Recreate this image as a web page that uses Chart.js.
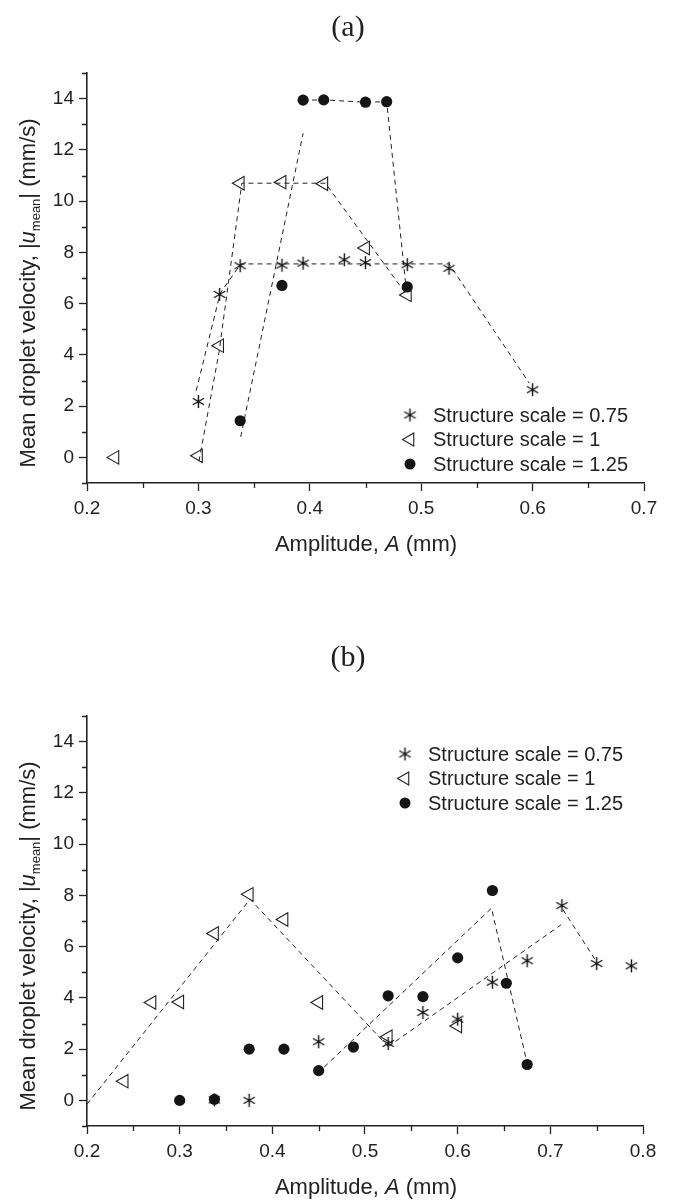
<!DOCTYPE html>
<html>
<head>
<meta charset="utf-8">
<script src="https://cdn.jsdelivr.net/npm/chart.js@4.4.1/dist/chart.umd.min.js"></script>
<style>
  body { margin: 0; background: #fff; }
  canvas { display: block; }
</style>
</head>
<body>
<canvas id="chartA" width="680" height="601"></canvas>
<canvas id="chartB" width="680" height="601"></canvas>
<script>
// ---- panel (a) ----
const ampA75 = [0.3, 0.319, 0.3375, 0.375, 0.394, 0.431, 0.45, 0.4875, 0.525, 0.6];
const velA75 = [2.18, 6.36, 7.48, 7.5, 7.58, 7.71, 7.6, 7.52, 7.38, 2.64];
const ampA1 = [0.225, 0.3, 0.319, 0.3375, 0.375, 0.4125, 0.45, 0.4875];
const velA1 = [0, 0.06, 4.36, 10.7, 10.74, 10.68, 8.17, 6.34];
const ampA125 = [0.3375, 0.375, 0.394, 0.4125, 0.45, 0.469, 0.4875];
const velA125 = [1.43, 6.71, 13.94, 13.95, 13.86, 13.88, 6.65];

// dashed guide lines (a)
const guideA75Amp = [0.298, 0.3195, 0.338, 0.525, 0.597];
const guideA75Vel = [2.6, 6.4, 7.55, 7.55, 2.9];
const guideA1Amp = [0.3005, 0.3185, 0.339, 0.414, 0.486];
const guideA1Vel = [-0.15, 4.1, 10.7, 10.7, 6.4];
const guideA125Amp1 = [0.338, 0.394];
const guideA125Vel1 = [0.8, 12.65];
const guideA125Amp2 = [0.394, 0.4125, 0.45, 0.469, 0.486];
const guideA125Vel2 = [13.94, 13.95, 13.86, 13.88, 6.8];

const xTicksA = [0.2, 0.3, 0.4, 0.5, 0.6, 0.7];
const xMinorA = [0.25, 0.35, 0.45, 0.55, 0.65];

// ---- panel (b) ----
const ampB75 = [0.3375, 0.375, 0.45, 0.525, 0.5625, 0.6, 0.6375, 0.675, 0.7125, 0.75, 0.7875];
const velB75 = [0.02, 0, 2.29, 2.22, 3.43, 3.17, 4.61, 5.45, 7.6, 5.34, 5.25];
const ampB1 = [0.24, 0.27, 0.3, 0.3375, 0.375, 0.4125, 0.45, 0.525, 0.6];
const velB1 = [0.75, 3.82, 3.84, 6.51, 8.04, 7.06, 3.82, 2.48, 2.9];
const ampB125 = [0.3, 0.3375, 0.375, 0.4125, 0.45, 0.4875, 0.525, 0.5625, 0.6, 0.6375, 0.6525, 0.675];
const velB125 = [0, 0.04, 2.0, 2.0, 1.16, 2.08, 4.08, 4.05, 5.56, 8.19, 4.57, 1.4];

// dashed guide lines (b)
const guideB1Amp = [0.2, 0.376, 0.525];
const guideB1Vel = [-0.15, 7.85, 2.1];
const guideB75Amp1 = [0.525, 0.7115];
const guideB75Vel1 = [2.1, 6.85];
const guideB75Amp2 = [0.7135, 0.75];
const guideB75Vel2 = [7.45, 5.4];
const guideB125Amp = [0.456, 0.6365, 0.674];
const guideB125Vel = [1.3, 7.5, 1.6];

const xTicksB = [0.2, 0.3, 0.4, 0.5, 0.6, 0.7, 0.8];
const xMinorB = [0.25, 0.35, 0.45, 0.55, 0.65, 0.75];

const yTicks = [0, 2, 4, 6, 8, 10, 12, 14];
const yMinor = [-1, 1, 3, 5, 7, 9, 11, 13, 15];
const seriesLabels = ['Structure scale = 0.75', 'Structure scale = 1', 'Structure scale = 1.25'];

const ink = '#222';
const sans = "'Liberation Sans', Arial, sans-serif";
Chart.defaults.font.family = sans;
Chart.defaults.color = ink;

// six-armed asterisk marker
const star = document.createElement('canvas');
star.width = 15; star.height = 15;
(function () {
  const c = star.getContext('2d');
  c.strokeStyle = '#111';
  c.lineWidth = 1.4;
  c.beginPath();
  for (let k = 0; k < 3; k++) {
    const a = Math.PI / 2 + k * Math.PI / 3;
    c.moveTo(7.5 + Math.cos(a) * 6.5, 7.5 - Math.sin(a) * 6.5);
    c.lineTo(7.5 - Math.cos(a) * 6.5, 7.5 + Math.sin(a) * 6.5);
  }
  c.stroke();
})();

const pts = (xs, ys) => xs.map((x, i) => ({ x: x, y: ys[i] }));

function markerSets(a75, v75, a1, v1, a125, v125) {
  return [
    { label: seriesLabels[0], data: pts(a75, v75), pointStyle: star, pointRadius: 7, order: 0 },
    { label: seriesLabels[1], data: pts(a1, v1), pointStyle: 'triangle', pointRotation: -90, pointRadius: 7.8,
      borderColor: ink, borderWidth: 1.1, backgroundColor: 'rgba(0,0,0,0)', order: 0 },
    { label: seriesLabels[2], data: pts(a125, v125), pointStyle: 'circle', pointRadius: 5.6,
      backgroundColor: '#151515', borderColor: '#151515', borderWidth: 0, order: 0 }
  ];
}

function guide(xs, ys) {
  return { data: pts(xs, ys), showLine: true, pointRadius: 0, borderColor: ink, borderWidth: 1,
           borderDash: [5, 4], fill: false, order: 1 };
}

function drawRuns(ctx, runs, cx, base) {
  let total = 0;
  runs.forEach(r => { ctx.font = r.font; r.w = ctx.measureText(r.text).width; total += r.w; });
  let x = cx - total / 2;
  ctx.textAlign = 'left';
  ctx.textBaseline = 'alphabetic';
  runs.forEach(r => { ctx.font = r.font; ctx.fillText(r.text, x, base + (r.dy || 0)); x += r.w; });
}

function legendMarker(ctx, i, x, y) {
  ctx.save();
  if (i === 0) {
    ctx.drawImage(star, x - 7.5, y - 7.5);
  } else if (i === 1) {
    const r = 7.5;
    ctx.strokeStyle = ink; ctx.lineWidth = 1.1;
    ctx.beginPath();
    ctx.moveTo(x - r, y);
    ctx.lineTo(x + r / 2, y - r * Math.sqrt(3) / 2);
    ctx.lineTo(x + r / 2, y + r * Math.sqrt(3) / 2);
    ctx.closePath();
    ctx.stroke();
  } else {
    ctx.fillStyle = '#151515';
    ctx.beginPath(); ctx.arc(x, y, 5.5, 0, Math.PI * 2); ctx.fill();
  }
  ctx.restore();
}

function decorations(opt) {
  return {
    id: 'decor',
    afterDraw(chart) {
      const ctx = chart.ctx;
      const xs = chart.scales.x, ys = chart.scales.y, area = chart.chartArea;
      ctx.save();
      // minor ticks
      ctx.strokeStyle = ink; ctx.lineWidth = 1.3;
      ctx.beginPath();
      opt.xMinor.forEach(v => {
        const px = Math.round(xs.getPixelForValue(v)) + 0.5;
        ctx.moveTo(px, area.bottom); ctx.lineTo(px, area.bottom + 5);
      });
      yMinor.forEach(v => {
        const py = Math.round(ys.getPixelForValue(v)) + 0.5;
        ctx.moveTo(area.left - 5, py); ctx.lineTo(area.left, py);
      });
      ctx.stroke();

      ctx.fillStyle = ink;
      // panel title
      ctx.font = "30px 'Liberation Serif', 'DejaVu Serif', serif";
      ctx.textAlign = 'center'; ctx.textBaseline = 'middle';
      ctx.fillText(opt.title, 348, opt.titleY);

      // x axis title
      drawRuns(ctx, [
        { text: 'Amplitude, ', font: '22px ' + sans },
        { text: 'A', font: 'italic 22px ' + sans },
        { text: ' (mm)', font: '22px ' + sans }
      ], 366, area.bottom + 68);

      // y axis title
      ctx.save();
      ctx.translate(35, (area.top + area.bottom) / 2 + 15);
      ctx.rotate(-Math.PI / 2);
      drawRuns(ctx, [
        { text: 'Mean droplet velocity, |', font: '22px ' + sans },
        { text: 'u', font: 'italic 22px ' + sans },
        { text: 'mean', font: '13px ' + sans, dy: 5 },
        { text: '| (mm/s)', font: '22px ' + sans }
      ], 0, 0);
      ctx.restore();

      // legend
      ctx.font = '20px ' + sans;
      ctx.textAlign = 'left'; ctx.textBaseline = 'middle';
      seriesLabels.forEach((lab, i) => {
        const y = opt.legendY + i * 24.5;
        legendMarker(ctx, i, opt.legendX, y);
        ctx.fillStyle = ink;
        ctx.fillText(lab, opt.legendX + 23, y + 1);
      });
      ctx.restore();
    }
  };
}

function makeChart(id, datasets, xMax, xTicks, pad, opt) {
  return new Chart(document.getElementById(id), {
    type: 'scatter',
    data: { datasets: datasets },
    options: {
      responsive: false,
      animation: false,
      devicePixelRatio: 1,
      layout: { padding: pad },
      plugins: { legend: { display: false }, tooltip: { enabled: false } },
      scales: {
        x: {
          type: 'linear', min: 0.2, max: xMax,
          afterBuildTicks: s => { s.ticks = xTicks.map(v => ({ value: v })); },
          afterFit: s => { s.height = 40; },
          ticks: { callback: v => v.toFixed(1), font: { size: 19 }, color: ink, padding: 6, maxRotation: 0, autoSkip: false },
          grid: { drawOnChartArea: false, tickLength: 8, tickColor: ink, tickWidth: 1.3 },
          border: { color: ink, width: 1.6 }
        },
        y: {
          type: 'linear', min: -1, max: 15,
          afterBuildTicks: s => { s.ticks = yTicks.map(v => ({ value: v })); },
          afterFit: s => { s.width = 87; },
          ticks: { callback: v => String(v), font: { size: 19 }, color: ink, padding: 5, autoSkip: false },
          grid: { drawOnChartArea: false, tickLength: 8, tickColor: ink, tickWidth: 1.3 },
          border: { color: ink, width: 1.6 }
        }
      }
    },
    plugins: [decorations(opt)]
  });
}

makeChart('chartA',
  markerSets(ampA75, velA75, ampA1, velA1, ampA125, velA125).concat([
    guide(guideA75Amp, guideA75Vel),
    guide(guideA1Amp, guideA1Vel),
    guide(guideA125Amp1, guideA125Vel1),
    guide(guideA125Amp2, guideA125Vel2)
  ]),
  0.7, xTicksA,
  { left: 0, right: 36, top: 73, bottom: 78 },
  { title: '(a)', titleY: 28, xMinor: xMinorA, legendX: 410, legendY: 415 });

makeChart('chartB',
  markerSets(ampB75, velB75, ampB1, velB1, ampB125, velB125).concat([
    guide(guideB1Amp, guideB1Vel),
    guide(guideB75Amp1, guideB75Vel1),
    guide(guideB75Amp2, guideB75Vel2),
    guide(guideB125Amp, guideB125Vel)
  ]),
  0.8, xTicksB,
  { left: 0, right: 37, top: 115, bottom: 36 },
  { title: '(b)', titleY: 57, xMinor: xMinorB, legendX: 405, legendY: 153 });
</script>
</body>
</html>
